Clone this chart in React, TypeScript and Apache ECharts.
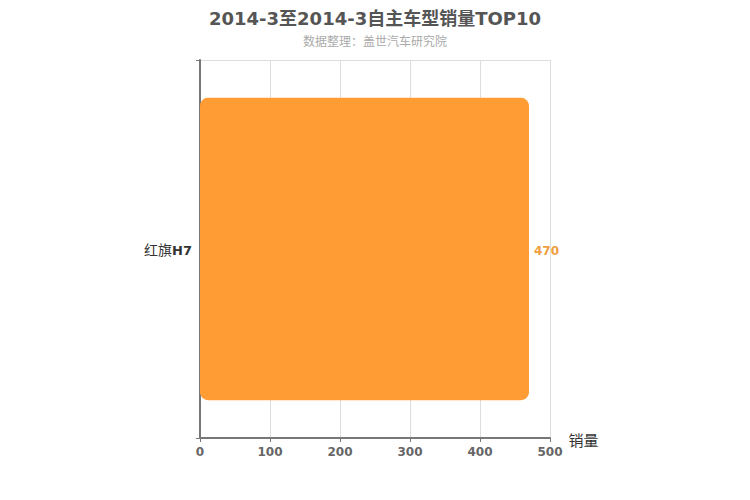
import React, { useEffect, useRef } from 'react';
import * as echarts from 'echarts';

const titleText = '2014-3至2014-3自主车型销量TOP10';
const subText = '数据整理：盖世汽车研究院';
const models = ['红旗H7'];
const sales = [470];

const App: React.FC = () => {
  const chartRef = useRef<HTMLDivElement>(null);

  useEffect(() => {
    document.body.style.margin = '0';
    if (!chartRef.current) return;
    const chart = echarts.init(chartRef.current, undefined, { renderer: 'svg' });
    const font = '"DejaVu Sans", "Noto Sans CJK SC", sans-serif';
    chart.setOption({
      animation: false,
      textStyle: { fontFamily: font },
      title: {
        text: titleText,
        subtext: subText,
        left: 'center',
        top: 4,
        itemGap: 9,
        textStyle: { fontSize: 18, fontWeight: 'bold', color: '#555', fontFamily: font },
        subtextStyle: { fontSize: 12, color: '#aaa', fontFamily: font },
      },
      grid: { left: 200, right: 200, top: 60, bottom: 62, containLabel: false },
      xAxis: {
        type: 'value',
        min: 0,
        max: 500,
        interval: 100,
        name: '销量',
        nameLocation: 'end',
        nameGap: 8,
        nameTextStyle: { fontSize: 15, color: '#333', verticalAlign: 'bottom', padding: [0, 0, -10, 0] },
        axisLine: { show: true, lineStyle: { color: '#777', width: 2 } },
        axisTick: { show: true, length: 4, lineStyle: { color: '#777' } },
        axisLabel: { fontSize: 12, fontWeight: 'bold', color: '#666', margin: 8 },
        splitLine: { show: true, lineStyle: { color: '#ddd' } },
      },
      yAxis: {
        type: 'category',
        data: models,
        axisLine: { show: true, lineStyle: { color: '#777', width: 2 } },
        axisTick: { show: true, length: 4, lineStyle: { color: '#777' } },
        axisLabel: {
          margin: 8,
          // CJK characters stay regular, latin part bold, as in the reference
          formatter: (v: string) =>
            v.replace(/([^\x00-\x7f]+)|([\x00-\x7f]+)/g, (m, cn) =>
              cn ? `{cn|${m}}` : `{en|${m}}`
            ),
          rich: {
            cn: { fontSize: 14, color: '#333', fontWeight: 'normal', padding: [2, 0, 0, 0] },
            en: { fontSize: 13, color: '#333', fontWeight: 'bold', padding: [2, 0, 0, 0] },
          },
        },
        splitLine: { show: true, lineStyle: { color: '#ddd' } },
      },
      series: [
        {
          type: 'bar',
          data: sales,
          barWidth: '80%',
          itemStyle: { color: '#ff9c34', borderRadius: 8 },
          label: {
            show: true,
            position: 'right',
            distance: 5,
            fontSize: 12,
            fontWeight: 'bold',
            color: '#f0a040',
            offset: [0, 2],
          },
        },
      ],
    });
    return () => {
      chart.dispose();
    };
  }, []);

  return <div ref={chartRef} style={{ width: '750px', height: '500px' }} />;
};

export default App;
